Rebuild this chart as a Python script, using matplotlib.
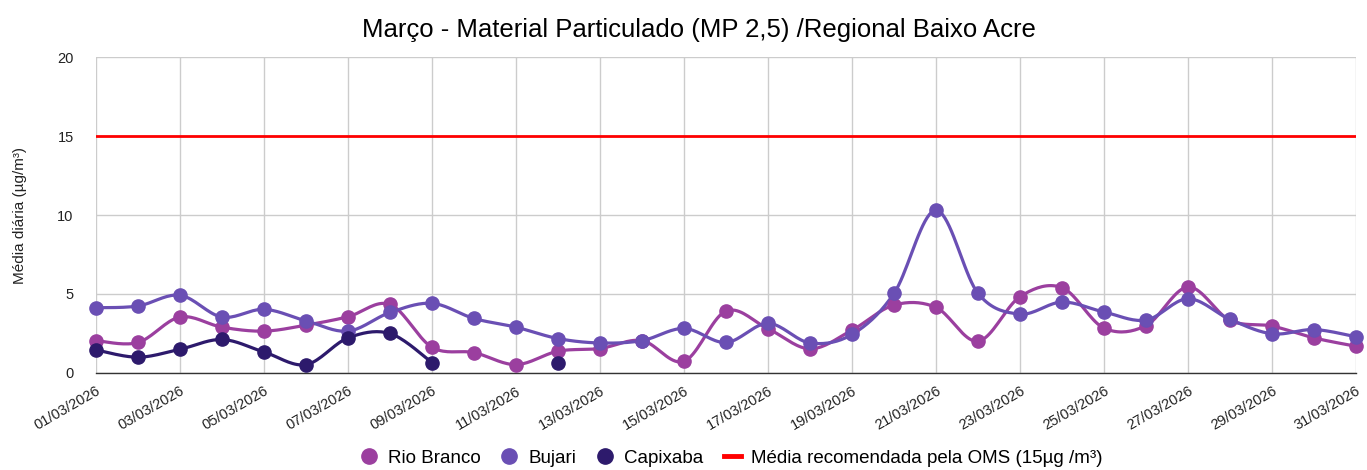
import numpy as np
import matplotlib
matplotlib.use("Agg")
import matplotlib.pyplot as plt
from matplotlib.lines import Line2D

plt.rcParams['font.family'] = ['Liberation Sans', 'DejaVu Sans']

days = list(range(1, 32))
date_labels = [f"{d:02d}/03/2026" for d in days]

rio_branco = [2.05, 1.93, 3.54, 2.9, 2.65, 3.03, 3.56, 4.34, 1.63, 1.29,
              0.53, 1.38, 1.55, 2.05, 0.74, 3.92, 2.8, 1.53, 2.71, 4.3,
              4.15, 2.01, 4.83, 5.4, 2.84, 3.0, 5.44, 3.33, 2.97, 2.22, 1.69]
bujari = [4.13, 4.24, 4.92, 3.54, 4.03, 3.3, 2.65, 3.83, 4.41, 3.45,
          2.9, 2.18, 1.9, 2.05, 2.82, 1.93, 3.14, 1.9, 2.44, 5.04,
          10.3, 5.04, 3.73, 4.49, 3.86, 3.35, 4.7, 3.39, 2.48, 2.75, 2.29]
capixaba = [1.46, 1.0, 1.5, 2.12, 1.33, 0.53, 2.22, 2.5, 0.66, None,
            None, 0.66] + [None] * 19
oms_limit = 15

series = [("Rio Branco", rio_branco, "#9b3f9f"),
          ("Bujari", bujari, "#6a4fb4"),
          ("Capixaba", capixaba, "#2d1a6c")]


def smooth(xs, ys, n=20, f=1/6):
    xs = np.asarray(xs, float)
    ys = np.asarray(ys, float)
    if len(xs) < 2:
        return xs, ys
    ox, oy = [], []
    m = len(xs)
    for i in range(m - 1):
        p0 = np.array([xs[max(i - 1, 0)], ys[max(i - 1, 0)]])
        p1 = np.array([xs[i], ys[i]])
        p2 = np.array([xs[i + 1], ys[i + 1]])
        p3 = np.array([xs[min(i + 2, m - 1)], ys[min(i + 2, m - 1)]])
        c1 = p1 + (p2 - p0) * f
        c2 = p2 - (p3 - p1) * f
        t = np.linspace(0, 1, n)[:, None]
        b = ((1 - t) ** 3) * p1 + 3 * ((1 - t) ** 2) * t * c1 + 3 * (1 - t) * t ** 2 * c2 + t ** 3 * p2
        ox.extend(b[:, 0]); oy.extend(b[:, 1])
    return np.array(ox), np.array(oy)


fig = plt.figure(figsize=(13.67, 4.70), dpi=100)
ax = fig.add_axes([0.0702, 0.2064, 0.9218, 0.6723])

for name, vals, col in series:
    runs, cur = [], []
    for d, v in zip(days, vals):
        if v is None:
            if cur:
                runs.append(cur); cur = []
        else:
            cur.append((d, v))
    if cur:
        runs.append(cur)
    for r in runs:
        rx = [p[0] for p in r]; ry = [p[1] for p in r]
        sx, sy = smooth(rx, ry)
        ax.plot(sx, sy, color=col, lw=2.3, zorder=3, solid_capstyle='round')
        ax.plot(rx, ry, 'o', color=col, ms=9.5, zorder=4, clip_on=False)

ax.plot([days[0], days[-1]], [oms_limit, oms_limit], color='#ff0000', lw=2, zorder=2)

ax.set_xlim(days[0], days[-1])
ax.set_ylim(0, 20)
ax.set_yticks([0, 5, 10, 15, 20])
ax.set_xticks(days[::2])
ax.set_xticklabels(date_labels[::2], rotation=30, ha='right', rotation_mode='anchor')
ax.tick_params(axis='both', length=0, labelsize=10.5, colors='#222222')
ax.tick_params(axis='x', pad=8)
ax.tick_params(axis='y', pad=16)
ax.grid(True, color='#cccccc', lw=1)
ax.set_axisbelow(True)
for s in ['top', 'right', 'left']:
    ax.spines[s].set_visible(False)
ax.spines['bottom'].set_color('#333333')
ax.spines['bottom'].set_linewidth(1)
ax.set_ylabel("Média diária (µg/m³)", fontsize=11, color='#222222', labelpad=22)

fig.text(0.511, 0.936, "Março - Material Particulado (MP 2,5) /Regional Baixo Acre",
         ha='center', va='center', fontsize=18.5, color='#000000')

handles = [Line2D([], [], marker='o', ls='none', color=c, ms=11, label=n) for n, _, c in series]
handles.append(Line2D([], [], color='#ff0000', lw=3.5, label="Média recomendada pela OMS (15µg /m³)"))
fig.legend(handles=handles, loc='center', bbox_to_anchor=(0.535, 0.025), ncol=4, frameon=False,
           fontsize=13.5, handlelength=0.9, handletextpad=0.55, columnspacing=1.1)

fig.savefig("out.png", dpi=100)
